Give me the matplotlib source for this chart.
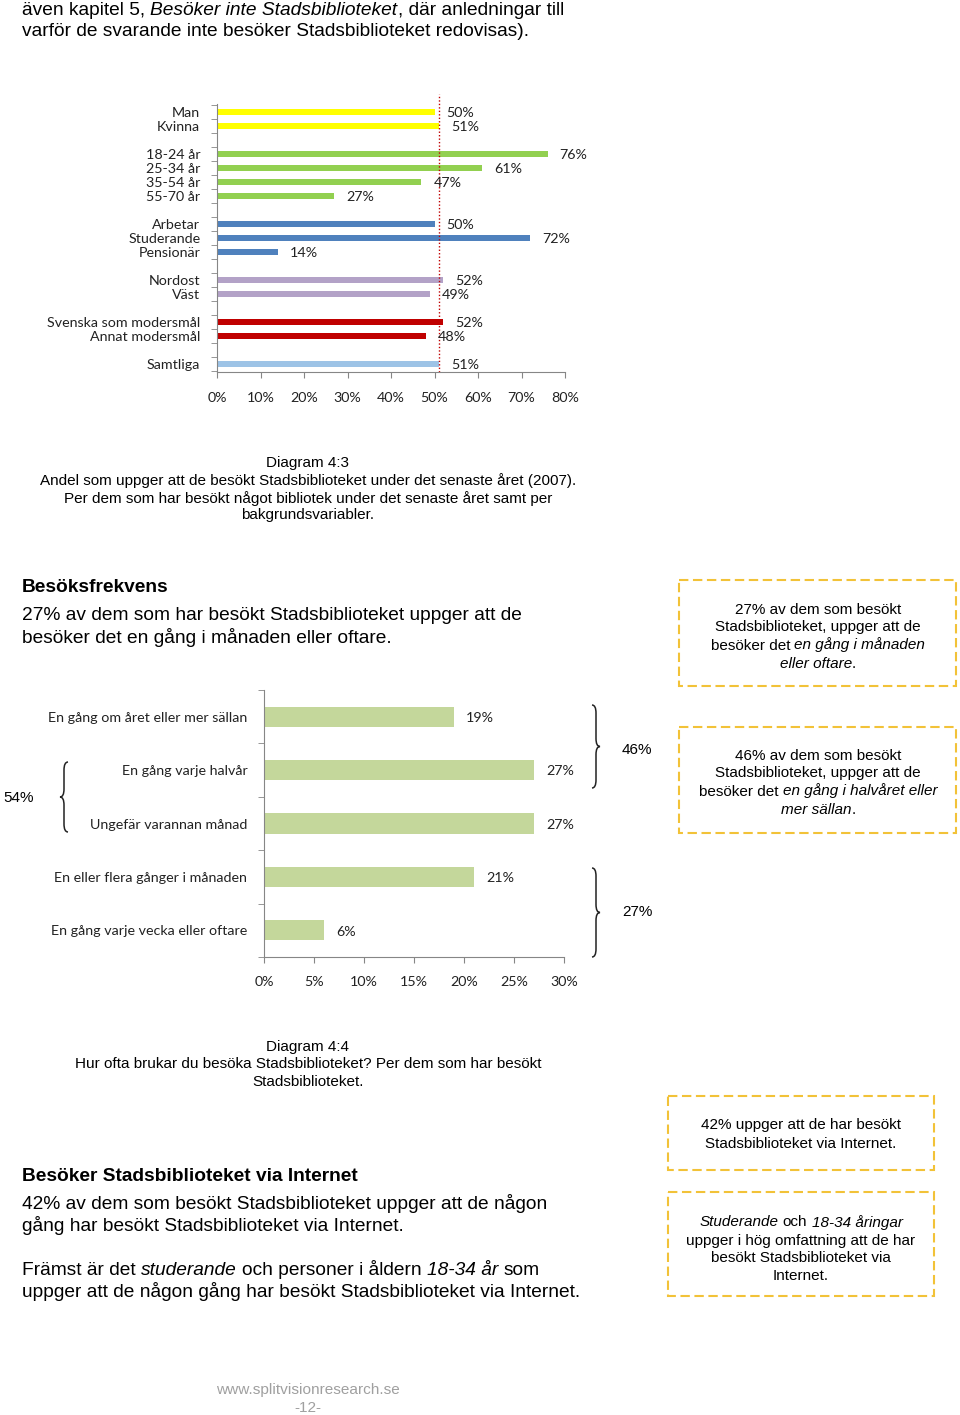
import numpy as np
import matplotlib.pyplot as plt
from matplotlib.patches import Rectangle, PathPatch
from matplotlib.path import Path

W, H = 960, 1415

# Diagram 4:3 - besökt Stadsbiblioteket senaste året
groups1 = [["Man", "Kvinna"],
           ["18-24 år", "25-34 år", "35-54 år", "55-70 år"],
           ["Arbetar", "Studerande", "Pensionär"],
           ["Nordost", "Väst"],
           ["Svenska som modersmål", "Annat modersmål"],
           ["Samtliga"]]
values1 = [[50, 51], [76, 61, 47, 27], [50, 72, 14], [52, 49], [52, 48], [51]]
colors1 = ["#FFFF00", "#92D050", "#4F81BD", "#B3A2C7", "#C00000", "#9DC3E6"]
total1 = 51
ticks1 = [0, 10, 20, 30, 40, 50, 60, 70, 80]

# Diagram 4:4 - besöksfrekvens
labels2 = ["En gång om året eller mer sällan", "En gång varje halvår",
           "Ungefär varannan månad", "En eller flera gånger i månaden",
           "En gång varje vecka eller oftare"]
values2 = [19, 27, 27, 21, 6]
ticks2 = [0, 5, 10, 15, 20, 25, 30]
bar2_color = "#C4D79B"

BODY = "Liberation Sans"
CHART = "Lato"
AXC = "#868686"
BOXC = "#F2C238"
BS = 13.8    # body text
CAP = 11     # captions
BX = 11      # box text
CS = 10.3    # chart text

fig = plt.figure(figsize=(W / 100, H / 100), dpi=100)
ov = fig.add_axes([0, 0, 1, 1])
ov.set_xlim(0, W)
ov.set_ylim(H, 0)
ov.axis("off")
renderer = fig.canvas.get_renderer()


def px_axes(l, t, r, b):
    return fig.add_axes([l / W, 1 - b / H, (r - l) / W, (b - t) / H])


def rich(x, y, runs, size, ha="left", color="black", family=BODY, weight="normal"):
    # runs: list of (text, italic); y is the visual middle of the line
    probe = ov.text(0, 0, "a a", fontsize=size, family=family)
    w1 = probe.get_window_extent(renderer).width
    probe.set_text("aa")
    sp = w1 - probe.get_window_extent(renderer).width
    probe.remove()
    yb = y + 0.36 * size * 100 / 72
    items = []
    adv = 0
    for s, it in runs:
        lead = len(s) - len(s.lstrip(" "))
        trail = len(s) - len(s.rstrip(" "))
        adv += lead * sp
        t = ov.text(0, yb, s.strip(" "), fontsize=size, family=family, color=color,
                    style="italic" if it else "normal", weight=weight,
                    va="baseline", ha="left")
        w = t.get_window_extent(renderer).width
        items.append((t, adv))
        adv += w + trail * sp
    x0 = x - adv / 2 if ha == "center" else x
    for t, off in items:
        t.set_x(x0 + off)


def line(x, y, s, size=BS, **kw):
    rich(x, y, [(s, False)], size, **kw)


def brace(x, y0, y1, w, side):
    ym = (y0 + y1) / 2
    xm = x + side * w / 2
    xt = x + side * w
    r = min(w, (y1 - y0) / 4)
    verts = [(x, y0), (xm, y0), (xm, y0 + r), (xm, ym - r), (xm, ym), (xt, ym),
             (xm, ym), (xm, ym + r), (xm, y1 - r), (xm, y1), (x, y1)]
    codes = [Path.MOVETO, Path.CURVE3, Path.CURVE3, Path.LINETO, Path.CURVE3, Path.CURVE3,
             Path.CURVE3, Path.CURVE3, Path.LINETO, Path.CURVE3, Path.CURVE3]
    ov.add_patch(PathPatch(Path(verts, codes), fill=False, lw=1.1, color="#222222"))


def dbox(l, t, r, b):
    ov.add_patch(Rectangle((l, t), r - l, b - t, fill=False, ec=BOXC, lw=1.5,
                           ls=(0, (4.5, 2.2))))


# ---- text on the page ----
rich(22, 8, [("även kapitel 5, ", False), ("Besöker inte Stadsbiblioteket", True),
             (", där anledningar till", False)], BS)
line(22, 29, "varför de svarande inte besöker Stadsbiblioteket redovisas).")

line(308, 461, "Diagram 4:3", CAP, ha="center")
line(308, 479, "Andel som uppger att de besökt Stadsbiblioteket under det senaste året (2007).", CAP, ha="center")
line(308, 497, "Per dem som har besökt något bibliotek under det senaste året samt per", CAP, ha="center")
line(308, 514, "bakgrundsvariabler.", CAP, ha="center")

line(22, 585, "Besöksfrekvens", BS, weight="bold")
line(22, 613, "27% av dem som har besökt Stadsbiblioteket uppger att de")
line(22, 636, "besöker det en gång i månaden eller oftare.")

dbox(679, 580, 956, 686)
line(818, 608, "27% av dem som besökt", BX, ha="center")
line(818, 626, "Stadsbiblioteket, uppger att de", BX, ha="center")
rich(818, 644, [("besöker det ", False), ("en gång i månaden", True)], BX, ha="center")
rich(818, 662, [("eller oftare", True), (".", False)], BX, ha="center")

dbox(679, 727, 956, 833)
line(818, 755, "46% av dem som besökt", BX, ha="center")
line(818, 772, "Stadsbiblioteket, uppger att de", BX, ha="center")
rich(818, 790, [("besöker det ", False), ("en gång i halvåret eller", True)], BX, ha="center")
rich(818, 808, [("mer sällan", True), (".", False)], BX, ha="center")

line(308, 1045, "Diagram 4:4", CAP, ha="center")
line(308, 1063, "Hur ofta brukar du besöka Stadsbiblioteket? Per dem som har besökt", CAP, ha="center")
line(308, 1080, "Stadsbiblioteket.", CAP, ha="center")

dbox(668, 1096, 934, 1170)
line(801, 1124, "42% uppger att de har besökt", BX, ha="center")
line(801, 1142, "Stadsbiblioteket via Internet.", BX, ha="center")

dbox(668, 1192, 934, 1296)
rich(801, 1221, [("Studerande", True), (" och ", False), ("18-34 åringar", True)], BX, ha="center")
line(801, 1239, "uppger i hög omfattning att de har", BX, ha="center")
line(801, 1257, "besökt Stadsbiblioteket via", BX, ha="center")
line(801, 1275, "Internet.", BX, ha="center")

line(22, 1174, "Besöker Stadsbiblioteket via Internet", BS, weight="bold")
line(22, 1202, "42% av dem som besökt Stadsbiblioteket uppger att de någon")
line(22, 1224, "gång har besökt Stadsbiblioteket via Internet.")
rich(22, 1268, [("Främst är det ", False), ("studerande", True),
                (" och personer i åldern ", False), ("18-34 år", True), (" som", False)], BS)
line(22, 1290, "uppger att de någon gång har besökt Stadsbiblioteket via Internet.")

line(308, 1388, "www.splitvisionresearch.se", 11.1, ha="center", color="#A0A0A0")
line(308, 1406, "-12-", 11.1, ha="center", color="#A0A0A0")

# braces diagram 4:4
brace(592, 705, 788, 8, 1)
brace(592, 868, 957, 8, 1)
brace(68, 762, 832, 8, -1)
line(622, 749, "46%", 11)
line(622, 911, "27%", 11)
line(3, 796, "54%", 11)


def style_axes(ax):
    for s in ["top", "right"]:
        ax.spines[s].set_visible(False)
    for s in ["left", "bottom"]:
        ax.spines[s].set_color(AXC)
    ax.set_facecolor("none")


def style_ticks(ax):
    ax.tick_params(axis="y", which="major", length=0, pad=12)
    ax.tick_params(axis="y", which="minor", length=4, color=AXC)
    ax.tick_params(axis="x", length=4, color=AXC, pad=10)
    for t in ax.get_xticklabels() + ax.get_yticklabels():
        t.set_family(CHART)
        t.set_fontsize(CS)
        t.set_color("#222222")


# ---- Diagram 4:3 ----
ax1 = px_axes(217, 103.6, 565, 372.4)
style_axes(ax1)
pos, labs, vals, cols = [], [], [], []
p = 0
for g, v, c in zip(groups1, values1, colors1):
    for name, val in zip(g, v):
        pos.append(p)
        labs.append(name)
        vals.append(val)
        cols.append(c)
        p += 1
    p += 1
ax1.barh(pos, vals, height=0.36, color=cols)
for y, v in zip(pos, vals):
    ax1.annotate(f"{v}%", (v, y), xytext=(8.6, -1), textcoords="offset points",
                 va="center", ha="left", fontsize=CS, family=CHART, color="#222222")
ax1.axvline(total1, ymin=0, ymax=1.035, color="#C00000", ls=(0, (1, 1.5)), lw=1, clip_on=False)
ax1.set_xlim(0, 80)
ax1.set_ylim(pos[-1] + 0.6, -0.6)
ax1.set_xticks(ticks1)
ax1.set_xticklabels([f"{t}%" for t in ticks1])
ax1.set_yticks(pos)
ax1.set_yticklabels(labs)
ax1.set_yticks(np.arange(-0.5, pos[-1] + 1, 1), minor=True)
style_ticks(ax1)

# ---- Diagram 4:4 ----
ax2 = px_axes(264, 690, 564, 957)
style_axes(ax2)
y2 = np.arange(len(values2))
ax2.barh(y2, values2, height=0.38, color=bar2_color)
for y, v in zip(y2, values2):
    ax2.annotate(f"{v}%", (v, y), xytext=(8.6, -1), textcoords="offset points",
                 va="center", ha="left", fontsize=CS, family=CHART, color="#222222")
ax2.set_xlim(0, 30)
ax2.set_ylim(len(values2) - 0.5, -0.5)
ax2.set_xticks(ticks2)
ax2.set_xticklabels([f"{t}%" for t in ticks2])
ax2.set_yticks(y2)
ax2.set_yticklabels(labels2)
ax2.set_yticks(np.arange(-0.5, len(values2), 1), minor=True)
style_ticks(ax2)

fig.savefig("out.png", dpi=100)
